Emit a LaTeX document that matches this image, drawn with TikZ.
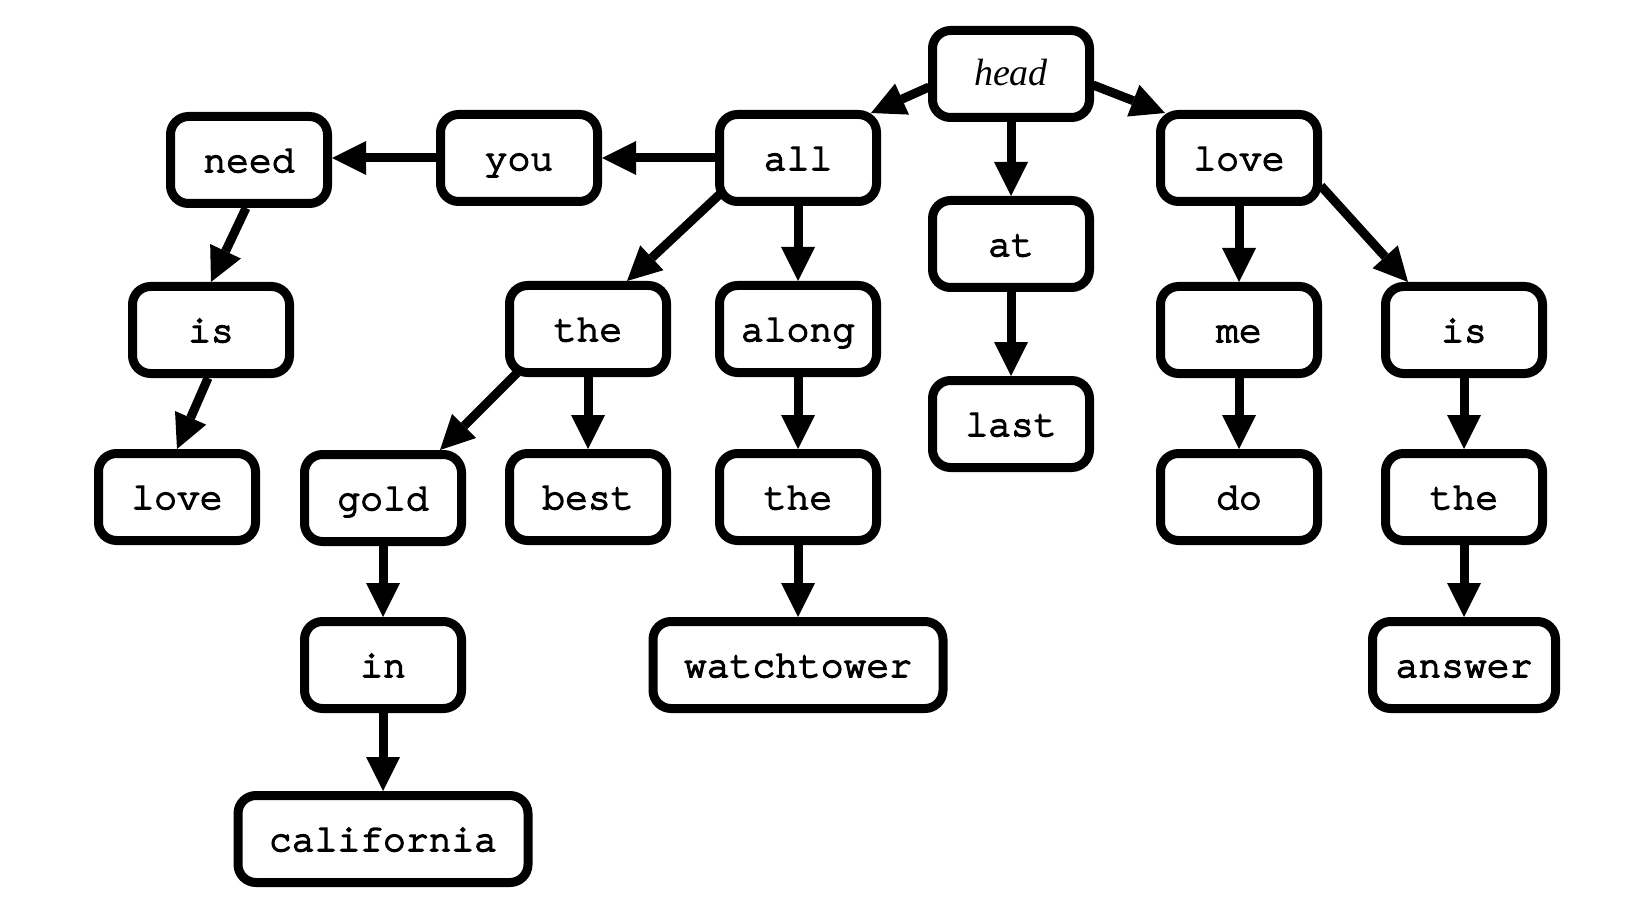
\documentclass[tikz,border=0pt]{standalone}
\usepackage{fontspec}
\newfontfamily\courfont[FakeBold=4]{TeX Gyre Cursor}
\newfontfamily\headfont{Liberation Serif}
\usetikzlibrary{arrows.meta}
\begin{document}
\begin{tikzpicture}[x=1pt,y=-1pt,
  wbox/.style={draw, line width=9pt, rounded corners=18pt, minimum width=157pt,
    minimum height=87pt, inner sep=0pt, fill=white, text height=32pt, text depth=8pt,
    font=\fontsize{38}{40}\selectfont\courfont},
  hbox/.style={wbox, font=\fontsize{38}{40}\selectfont\headfont\itshape},
  edge/.style={line width=9pt, -{Triangle[length=34pt,width=34pt,line width=0pt]}}]
\useasboundingbox (0,0) rectangle (1650,920);
\node[hbox] (head) at (1011,74) {head};
\node[wbox] (all) at (798,158) {all};
\node[wbox] (you) at (519,158) {you};
\node[wbox] (need) at (249,160) {need};
\node[wbox] (loveA) at (1239,158) {love};
\node[wbox] (at) at (1011,244) {at};
\node[wbox] (last) at (1011,424) {last};
\node[wbox] (isL) at (211,330) {is};
\node[wbox] (theA) at (588,329) {the};
\node[wbox] (along) at (798,329) {along};
\node[wbox] (me) at (1239,330) {me};
\node[wbox] (isR) at (1464,330) {is};
\node[wbox] (loveL) at (177,497) {love};
\node[wbox] (gold) at (383,498) {gold};
\node[wbox] (best) at (588,497) {best};
\node[wbox] (theB) at (798,497) {the};
\node[wbox] (do) at (1239,497) {do};
\node[wbox] (theC) at (1464,497) {the};
\node[wbox] (in) at (383,665) {in};
\node[wbox, minimum width=290pt] (watch) at (798,665) {watchtower};
\node[wbox, minimum width=183pt] (answer) at (1464,665) {answer};
\node[wbox, minimum width=290pt] (cal) at (383,839) {california};
% edges
\draw[edge] ([shift={(-82,13)}]head.center) -- ([shift={(73,-45)}]all.center);
\draw[edge] ([shift={(82,11)}]head.center) -- ([shift={(-74,-45)}]loveA.center);
\draw[edge] (head.south) -- (at.north);
\draw[edge] (at.south) -- (last.north);
\draw[edge] (all.west) -- (you.east);
\draw[edge] (you.west) -- (you.west -| need.east);
\draw[edge] ([xshift=-3pt]need.south) -- (isL.north);
\draw[edge] ([xshift=-3pt]isL.south) -- (loveL.north);
\draw[edge] ([shift={(-78,36)}]all.center) -- ([shift={(39,-48)}]theA.center);
\draw[edge] (all.south) -- (along.north);
\draw[edge] ([shift={(-71,44)}]theA.center) -- ([shift={(57,-48)}]gold.center);
\draw[edge] (theA.south) -- (best.north);
\draw[edge] (along.south) -- (theB.north);
\draw[edge] (theB.south) -- (watch.north);
\draw[edge] (gold.south) -- (in.north);
\draw[edge] (in.south) -- (cal.north);
\draw[edge] (loveA.south) -- (me.north);
\draw[edge] (me.south) -- (do.north);
\draw[edge] ([shift={(82,28)}]loveA.center) -- ([shift={(-56,-48)}]isR.center);
\draw[edge] (isR.south) -- (theC.north);
\draw[edge] (theC.south) -- (answer.north);
\end{tikzpicture}
\end{document}
